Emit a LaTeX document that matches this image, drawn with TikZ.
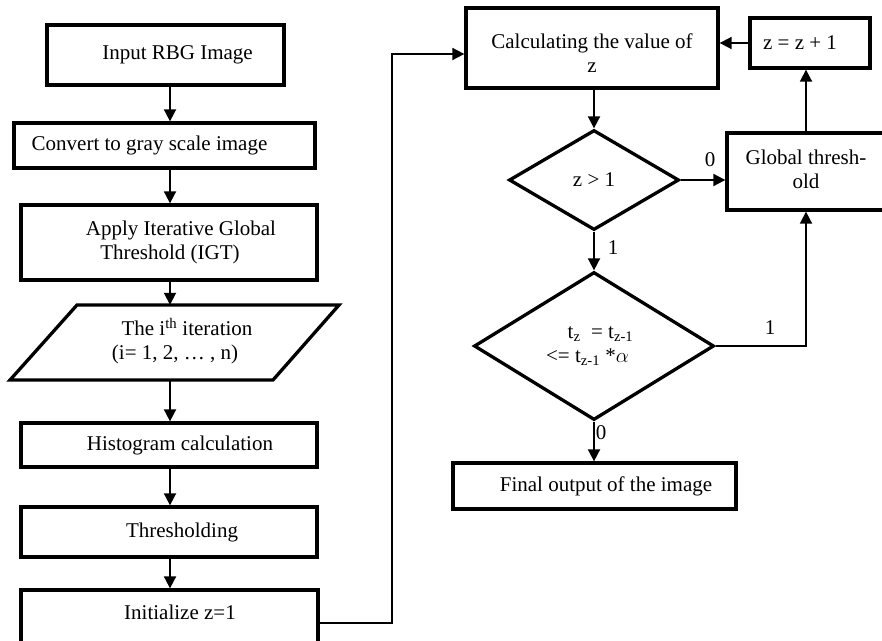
\documentclass[tikz,border=0pt]{standalone}
\usepackage{fontspec}
\setmainfont{Liberation Serif}
\usetikzlibrary{shapes.geometric,arrows.meta}
\begin{document}
\begin{tikzpicture}[x=1pt,y=-1pt,
  txt/.style={font=\fontsize{21}{24}\selectfont},
  box/.style={txt, draw, line width=3.3pt, rectangle, inner sep=0pt},
  dia/.style={txt, draw, line width=3.3pt, diamond, inner sep=0pt, align=center},
  arr/.style={line width=1.8pt, -{Triangle[length=12pt,width=12pt]}},
  lbl/.style={txt, inner sep=0pt}]
\useasboundingbox (0,0) rectangle (882,640);
\clip (0,0) rectangle (882,640);
% left column
\node[box, minimum width=237pt, minimum height=60pt] (in) at (165.5,55) {\kern24pt Input RBG Image};
\node[box, minimum width=301pt, minimum height=45pt] (conv) at (164.5,145.5) {Convert to gray scale image\kern30pt};
\node[box, minimum width=296pt, minimum height=75pt] (apply) at (169,242.5)
  {\kern13pt\begin{tabular}{@{}c@{}}\kern11pt Apply Iterative Global\\Threshold (IGT)\kern11pt\end{tabular}};
\draw[line width=3.3pt, line join=miter] (77,305) -- (339,305) -- (273,380) -- (10,380) -- cycle;
\node[txt, minimum width=262pt, minimum height=75pt, inner sep=0pt] (para) at (174.5,342.5)
  {\kern13pt\begin{tabular}{@{}c@{}}\kern12pt The i\textsuperscript{th} iteration\\(i= 1, 2, … , n)\kern12pt\end{tabular}};
\node[box, minimum width=296pt, minimum height=44pt] (hist) at (169,445) {\kern22pt Histogram calculation};
\node[box, minimum width=296pt, minimum height=50pt] (thr) at (169,532) {\kern26pt Thresholding};
\node[box, minimum width=297pt, minimum height=66pt] (init) at (169.5,623) {\kern21pt Initialize z=1\rule[-22pt]{0pt}{22pt}};
% right column
\node[box, minimum width=252pt, minimum height=80pt] (calc) at (592,48)
  {\begin{tabular}{@{}c@{}}\rule{0pt}{33pt}Calculating the value of\\z\end{tabular}};
\node[box, minimum width=120pt, minimum height=50pt] (zinc) at (810,43) {z = z + 1\kern20pt};
\node[dia, minimum width=170pt, minimum height=100pt] (d1) at (594,180) {z > 1};
\node[box, minimum width=158pt, minimum height=77pt] (glob) at (806,171.5)
  {\begin{tabular}{@{}c@{}}Global thresh-\\old\end{tabular}};
\node[dia, minimum width=240pt, minimum height=148pt] (d2) at (594,346)
  {\kern13pt t\textsubscript{z}\ \ = t\textsubscript{z-1}\\<= t\textsubscript{z-1} *$\alpha$\kern13pt};
\node[box, minimum width=283pt, minimum height=46pt] (final) at (594.5,486) {\kern23pt Final output of the image};
% labels
\node[lbl] (l0a) at (710,160) {0};
\node[lbl] (l1a) at (613,248) {1};
\node[lbl] (l1b) at (770,328) {1};
\node[lbl] (l0b) at (601,433) {0};
% connectors
\coordinate (cL) at (170,0);
\coordinate (bend) at (392,0);
\coordinate (cin) at ([yshift=-6pt]calc.west);
\draw[arr] (in.south -| cL) -- (conv.north -| cL);
\draw[arr] (conv.south -| cL) -- (apply.north -| cL);
\draw[arr] (apply.south -| cL) -- (para.north -| cL);
\draw[arr] (para.south -| cL) -- (hist.north -| cL);
\draw[arr] (hist.south -| cL) -- (thr.north -| cL);
\draw[arr] (thr.south -| cL) -- (init.north -| cL);
\draw[arr] (init.east) -| (bend |- cin) -- (cin);
\draw[arr] (calc.south -| d1.north) -- (d1.north);
\draw[arr] (zinc.west) -- (zinc.west -| calc.east);
\draw[arr] (d1.east) -- (d1.east -| glob.west);
\draw[arr] (glob.north) -- (glob.north |- zinc.south);
\draw[arr] (d1.south) -- (d2.north);
\draw[arr] (d2.east) -| (glob.south);
\draw[arr] (d2.south) -- (d2.south |- final.north);
\end{tikzpicture}
\end{document}
